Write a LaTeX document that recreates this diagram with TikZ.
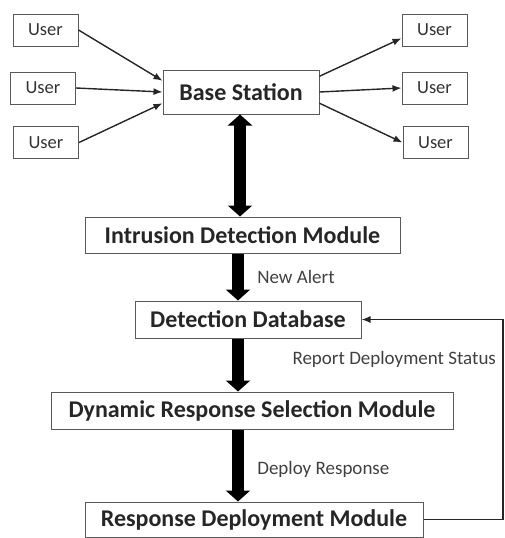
\documentclass[tikz,border=0pt]{standalone}
\usepackage{fontspec}
\setmainfont{Carlito}
\usepackage{tikz}
\usetikzlibrary{arrows.meta, positioning, calc}
\tikzstyle{user} = [rectangle, minimum width=65pt, minimum height=32pt, text centered, draw=black!65, line width=1pt, font=\fontsize{18.5}{20}\selectfont, text=black!80]
\tikzstyle{module} = [rectangle, minimum height=36pt, text centered, draw=black!65, line width=1pt, font=\bfseries\fontsize{24}{27}\selectfont, text=black!85, inner sep=2pt]
\tikzstyle{thin} = [-{Latex[length=9pt, width=7pt]}, line width=1.4pt, draw=black!85]
\tikzstyle{fat} = [-{Triangle[length=11pt, width=24pt]}, line width=12pt]
\tikzstyle{note} = [anchor=west, font=\fontsize{19}{21}\selectfont, text=black!75]

\begin{document}
\begin{tikzpicture}[x=1pt, y=-1pt]
\useasboundingbox (0,0) rectangle (505,538);
% users on both sides
\node (ul1) [user] at (45.5,30) {User};
\node (ul2) [user] at (43,88) {User};
\node (ul3) [user] at (46,142.5) {User};
\node (ur1) [user] at (434.5,30) {User};
\node (ur2) [user] at (434.5,88) {User};
\node (ur3) [user] at (435.5,142.5) {User};
\node (bs) [module, minimum width=156pt, minimum height=44pt] at (241,92) {Base Station};
% modules
\node (idm) [module, minimum width=315pt] at (242.5,235) {Intrusion Detection Module};
\node (ddb) [module, minimum width=226pt, minimum height=37pt] at (248,319.5) {Detection Database};
\node (drsm) [module, minimum width=402pt, minimum height=37pt] at (252,410.5) {Dynamic Response Selection Module};
\node (rdm) [module, minimum width=338pt, minimum height=35pt] at (254,519.5) {Response Deployment Module};
\coordinate (spine) at (238,0);
\coordinate (loop) at (503,0);

\draw [thin] (ul1.east) -- ($(bs.north west)!0.25!(bs.south west)$);
\draw [thin] (ul2.east) -- (bs.west);
\draw [thin] (ul3.east) -- ($(bs.north west)!0.75!(bs.south west)$);
\draw [thin] ($(bs.north east)!0.15!(bs.south east)$) -- ($(ur1.north west)!0.75!(ur1.south west)$);
\draw [thin] (bs.east) -- (ur2.west);
\draw [thin] ($(bs.north east)!0.75!(bs.south east)$) -- (ur3.west);

\draw [fat, {Triangle[length=11pt, width=24pt]}-{Triangle[length=11pt, width=24pt]}] (bs.south -| 240,0) -- (idm.north -| 240,0);
\draw [fat] (idm.south -| spine) -- node[note, xshift=10pt] {New Alert} (ddb.north -| spine);
\draw [fat] (ddb.south -| spine) -- (drsm.north -| spine);
\draw [fat] (drsm.south -| spine) -- node[note, xshift=10pt, yshift=-4pt] {Deploy Response} (rdm.north -| spine);

\draw [thin] (rdm.east) -- (rdm.east -| loop) |- (ddb.east);
\node (rds) [note] at (289,359) {Report Deployment Status};
\end{tikzpicture}
\end{document}
